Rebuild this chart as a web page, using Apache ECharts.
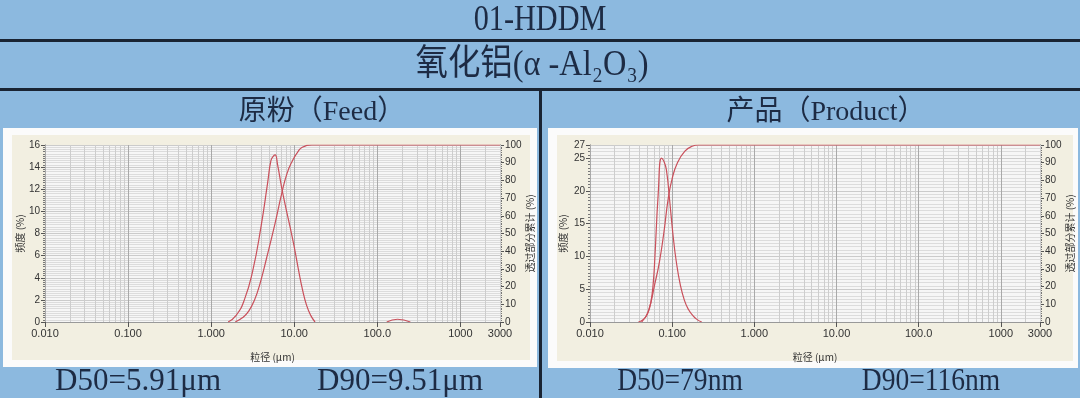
<!DOCTYPE html>
<html><head><meta charset="utf-8">
<script src="https://cdn.jsdelivr.net/npm/echarts@6/dist/echarts.min.js"></script>
<style>html,body{margin:0;padding:0;background:#8cb9df}#c{width:1080px;height:398px}</style>
</head><body><div id="c"></div>
<script>
// ---- axis ticks ----
const xTickValues = [0.01, 0.1, 1, 10, 100, 1000, 3000];
const xTickLabels = ['0.010', '0.100', '1.000', '10.00', '100.0', '1000', '3000'];

// ---- Feed (原粉) ----
const feedSize = [1.6, 2.0, 2.51, 3.16, 3.98, 4.79, 5.25, 5.62, 5.9, 6.31, 7.08, 7.94, 8.91, 10.0, 11.2, 12.6, 14.1, 15.8, 17.8];
const feedFreq = [0, 0.6, 2.0, 4.6, 8.6, 12.6, 14.6, 15.0, 15.1, 14.2, 12.1, 10.3, 8.6, 6.8, 4.8, 2.9, 1.5, 0.6, 0];
const feedBumpSize = [130, 175, 250];
const feedBumpFreq = [0, 0.25, 0];
const feedCumSize = [1.95, 2.4, 2.82, 3.3, 3.89, 4.7, 5.9, 7.1, 8.2, 9.5, 11.0, 12.5, 16.3, 3000];
const feedCum = [0, 2.5, 6, 12, 22, 37, 56, 73, 84, 91, 96, 98.7, 100, 100];

// ---- Product (产品) ----
const prodSize = [0.0389, 0.0447, 0.0501, 0.055, 0.0589, 0.0617, 0.0676, 0.0741, 0.0794, 0.0851, 0.0933, 0.102, 0.112, 0.126, 0.141, 0.158, 0.178, 0.200, 0.229];
const prodFreq = [0, 0.4, 1.2, 3.0, 6.0, 10.0, 19.5, 25.0, 24.5, 23.2, 18.5, 13.5, 9.3, 5.6, 3.3, 1.9, 1.0, 0.4, 0];
const prodCumSize = [0.0425, 0.0512, 0.0618, 0.070, 0.079, 0.0897, 0.100, 0.116, 0.143, 0.175, 0.210, 3000];
const prodCum = [0, 6, 22, 34, 50, 70, 81, 90, 96.5, 99.3, 100, 100];

// ---- texts ----
const titleText = '01-HDDM';
const subTitleText = '氧化铝(α -Al₂O₃)';
const feedTitle = '原粉（Feed）';
const prodTitle = '产品（Product）';
const feedD50 = 'D50=5.91μm', feedD90 = 'D90=9.51μm';
const prodD50 = 'D50=79nm', prodD90 = 'D90=116nm';
const yLeftName = '频度 (%)', yRightName = '透过部分累计 (%)', xName = '粒径 (μm)';

const zip = (a, b) => a.map((v, i) => [v, b[i]]);

// log grid positions (1..9 x 10^e)
const vGrid = [];
for (let e = -2; e <= 3; e++) for (let k = 1; k <= 9; k++) {
  const v = +(k * Math.pow(10, e)).toPrecision(3);
  if (v <= 3000) vGrid.push({ xAxis: v, lineStyle: { color: k === 1 ? '#a9a9a9' : '#cdcdcd', width: 1, type: 'solid' } });
}

const RED = '#c9505b';
const TXT = '#1d2b44';
const SERIF = '"Liberation Serif", "Noto Sans CJK SC", serif';

function xAxisCfg(gi) {
  return {
    type: 'log', logBase: 10, gridIndex: gi, min: 0.01, max: 3000,
    axisLine: { show: true, lineStyle: { color: '#999', width: 1 } },
    axisTick: { show: true, length: 5, lineStyle: { color: '#555' } },
    axisLabel: {
      fontSize: 11, color: '#333', fontFamily: '"Liberation Sans", sans-serif', margin: 6,
      formatter: v => {
        for (let i = 0; i < xTickValues.length; i++)
          if (Math.abs(Math.log10(v) - Math.log10(xTickValues[i])) < 0.01) return xTickLabels[i];
        return '';
      }
    },
    splitLine: { show: false },
    name: xName, nameLocation: 'middle', nameGap: 30,
    nameTextStyle: { fontSize: 10, color: '#333', fontFamily: '"Noto Sans CJK SC", sans-serif' }
  };
}
function yLeftCfg(gi, max, interval, nameGap) {
  return {
    type: 'value', gridIndex: gi, position: 'left', min: 0, max: max, interval: interval,
    axisLine: { show: true, lineStyle: { color: '#666' } },
    axisTick: { show: true, length: 4, lineStyle: { color: '#555' } },
    minorTick: { show: true, splitNumber: 10, length: 2, lineStyle: { color: '#777' } },
    splitLine: { show: true, lineStyle: { color: '#cbcbcb', width: 1 } },
    minorSplitLine: { show: true, lineStyle: { color: '#dcdcdc', width: 1 } },
    axisLabel: { fontSize: 10, color: '#333', fontFamily: '"Liberation Sans", sans-serif', margin: 5 },
    name: yLeftName, nameLocation: 'middle', nameRotate: 90, nameGap: nameGap,
    nameTextStyle: { fontSize: 10, color: '#333', fontFamily: '"Noto Sans CJK SC", sans-serif' }
  };
}
function yRightCfg(gi, nameGap) {
  return {
    type: 'value', gridIndex: gi, position: 'right', min: 0, max: 100, interval: 10,
    axisLine: { show: true, lineStyle: { color: '#666' } },
    axisTick: { show: true, length: 4, lineStyle: { color: '#555' } },
    minorTick: { show: true, splitNumber: 10, length: 2, lineStyle: { color: '#777' } },
    splitLine: { show: false },
    axisLabel: { fontSize: 10, color: '#333', fontFamily: '"Liberation Sans", sans-serif', margin: 5 },
    name: yRightName, nameLocation: 'middle', nameRotate: 90, nameGap: nameGap,
    nameTextStyle: { fontSize: 10, color: '#333', fontFamily: '"Noto Sans CJK SC", sans-serif' }
  };
}
function curve(data, xi, yi) {
  return {
    type: 'line', xAxisIndex: xi, yAxisIndex: yi, data: data, smooth: 0.5,
    symbol: 'none', z: 3, lineStyle: { color: RED, width: 1.2 }
  };
}
function gridLines(xi, yi) {
  return {
    type: 'line', xAxisIndex: xi, yAxisIndex: yi, data: [], silent: true,
    markLine: { silent: true, symbol: 'none', z: 1, animation: false, label: { show: false }, data: vGrid }
  };
}
function txt(x, y, text, size, sx, family) {
  return {
    type: 'text', x: x, y: y, scaleX: sx, z: 10,
    style: { text: text, fill: TXT, font: size + 'px ' + (family || SERIF), align: 'center', verticalAlign: 'middle' }
  };
}
function rect(x, y, w, h, fill, z) {
  return { type: 'rect', shape: { x: x, y: y, width: w, height: h }, style: { fill: fill }, z: z, silent: true };
}

const option = {
  animation: false,
  backgroundColor: '#8cb9df',
  graphic: [
    rect(0, 39, 1080, 3, '#1a2433', 5),
    rect(0, 88, 1080, 3, '#1a2433', 5),
    rect(539, 88, 3, 310, '#1a2433', 5),
    rect(3, 128, 534, 239, '#fbfbfb', -10),
    rect(12, 135, 518, 225, '#f2efe1', -9),
    rect(548, 128, 530, 240, '#fbfbfb', -10),
    rect(557, 135, 516, 226, '#f2efe1', -9),
    txt(540, 21, titleText, 36, 0.84),
    txt(532, 66, subTitleText, 36, 0.9),
    txt(322, 113, feedTitle, 28, 1),
    txt(826, 113, prodTitle, 28, 1),
    txt(138, 382, feedD50, 32, 0.97),
    txt(400, 382, feedD90, 32, 0.97),
    txt(680, 382, prodD50, 32, 0.86),
    txt(931, 382, prodD90, 32, 0.86)
  ],
  grid: [
    { left: 45, top: 145, width: 455, height: 177, show: true, backgroundColor: '#f6f6f6', borderWidth: 0 },
    { left: 590, top: 145, width: 450, height: 177, show: true, backgroundColor: '#f6f6f6', borderWidth: 0 }
  ],
  xAxis: [xAxisCfg(0), xAxisCfg(1)],
  yAxis: [yLeftCfg(0, 16, 2, 20), yRightCfg(0, 17), yLeftCfg(1, 27, 5, 22), yRightCfg(1, 20)],
  series: [
    gridLines(0, 0),
    gridLines(1, 2),
    curve(zip(feedSize, feedFreq), 0, 0),
    curve(zip(feedBumpSize, feedBumpFreq), 0, 0),
    curve(zip(feedCumSize, feedCum), 0, 1),
    curve(zip(prodSize, prodFreq), 1, 2),
    curve(zip(prodCumSize, prodCum), 1, 3)
  ]
};
const chart = echarts.init(document.getElementById('c'), null, { renderer: 'canvas' });
chart.setOption(option);
</script></body></html>
